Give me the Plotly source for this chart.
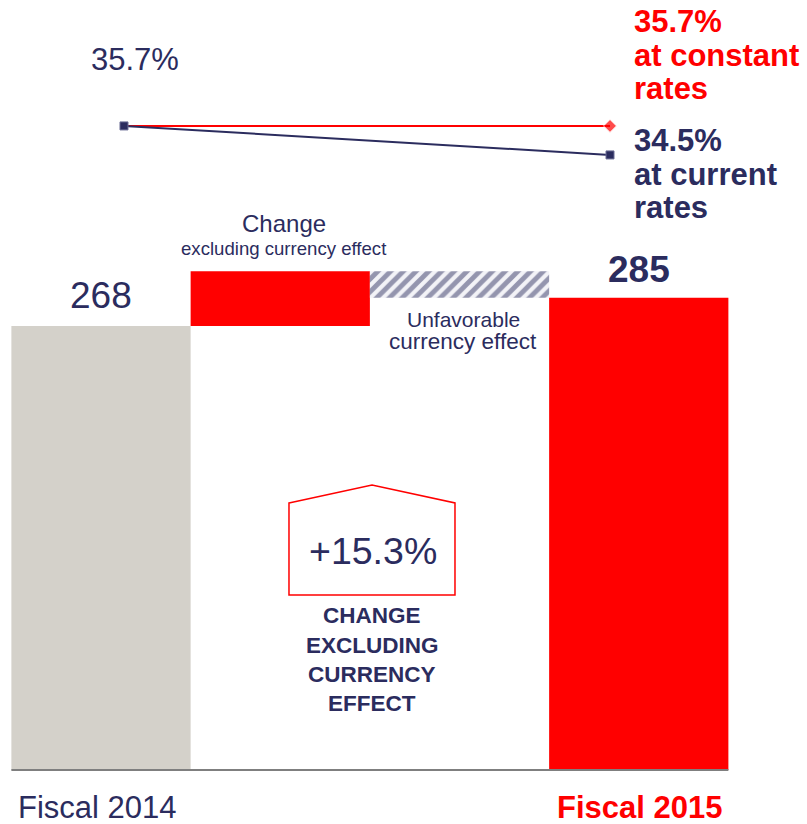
import plotly.graph_objects as go

W, H = 807, 824
NAVY = "#2b2c5e"
RED = "#ff0000"
GREY = "#d4d1ca"
FONT = "Arial, 'Liberation Sans', sans-serif"

# sales bridge, in value units
bridge_cats = ["Fiscal 2014", "Change", "Currency", "Fiscal 2015"]
start_value = 268
change_excl_currency = 33
end_value = 285
currency_effect = end_value - (start_value + change_excl_currency)
growth_excl_currency = 15.3

# operating margin, %
years = ["Fiscal 2014", "Fiscal 2015"]
margin_constant = [35.7, 35.7]
margin_current = [35.7, 34.5]


def px_x(x):
    return x / W


def px_y(y):
    return 1 - y / H


def text_line(text, x, base, size, color=NAVY, bold=False, xanchor="center"):
    # place a single line of text by its baseline, in pixels
    if bold:
        text = "<b>" + text + "</b>"
    return dict(
        text=text,
        x=px_x(x),
        y=px_y(base - 0.36 * size),
        xref="paper",
        yref="paper",
        xanchor=xanchor,
        yanchor="middle",
        showarrow=False,
        font=dict(family=FONT, size=size, color=color),
    )


fig = go.Figure()

fig.add_trace(
    go.Bar(x=[bridge_cats[0]], y=[start_value], width=1, marker=dict(color=GREY, line=dict(width=0)))
)
fig.add_trace(
    go.Bar(
        x=[bridge_cats[1]],
        y=[change_excl_currency],
        base=[start_value],
        width=1,
        marker=dict(color=RED, line=dict(width=0)),
    )
)
fig.add_trace(
    go.Bar(
        x=[bridge_cats[2]],
        y=[-currency_effect],
        base=[end_value],
        width=1,
        marker=dict(
            color="#f3f3f7",
            line=dict(width=0),
            pattern=dict(shape="/", fgcolor="#363865", bgcolor="#f3f3f7", size=9, solidity=0.55),
        ),
    )
)
fig.add_trace(
    go.Bar(x=[bridge_cats[3]], y=[end_value], width=1, marker=dict(color=RED, line=dict(width=0)))
)

# margin lines
fig.add_trace(
    go.Scatter(
        x=years,
        y=margin_constant,
        xaxis="x2",
        yaxis="y2",
        mode="lines+markers",
        line=dict(color=RED, width=2),
        marker=dict(symbol="diamond", size=[0, 10], color=RED),
    )
)
fig.add_trace(
    go.Scatter(
        x=years,
        y=margin_current,
        xaxis="x2",
        yaxis="y2",
        mode="lines+markers",
        line=dict(color=NAVY, width=2),
        marker=dict(symbol="square", size=8, color=NAVY, line=dict(color="#6b6d95", width=1)),
    )
)

annotations = [
    # value labels on the bars
    dict(
        x=bridge_cats[0], y=start_value, text=str(start_value), showarrow=False,
        yanchor="bottom", yshift=8, font=dict(family=FONT, size=37, color=NAVY),
    ),
    dict(
        x=bridge_cats[3], y=end_value, text="<b>%d</b>" % end_value, showarrow=False,
        yanchor="bottom", yshift=6, font=dict(family=FONT, size=37, color=NAVY),
    ),
    text_line("Change", 284, 232, 24),
    text_line("excluding currency effect", 284, 255, 18.6),
    text_line("Unfavorable", 463, 327, 21),
    text_line("currency effect", 463, 350, 22.5),
    text_line("%+.1f%%" % growth_excl_currency, 373, 564, 37.5),
    text_line("CHANGE", 372, 624, 22.5, bold=True),
    text_line("EXCLUDING", 372, 654, 22.5, bold=True),
    text_line("CURRENCY", 372, 683, 22.5, bold=True),
    text_line("EFFECT", 372, 712, 22.5, bold=True),
    text_line(years[0], 97, 819, 31),
    text_line(years[1], 639, 819, 31, color=RED, bold=True),
    # margin labels
    text_line("%.1f%%" % margin_current[0], 135, 71, 31),
    text_line("%.1f%%" % margin_constant[1], 632, 33, 31, color=RED, bold=True, xanchor="left"),
    text_line("at constant", 632, 67, 31, color=RED, bold=True, xanchor="left"),
    text_line("rates", 632, 100, 31, color=RED, bold=True, xanchor="left"),
    text_line("%.1f%%" % margin_current[1], 632, 152, 31, bold=True, xanchor="left"),
    text_line("at current", 632, 186, 31, bold=True, xanchor="left"),
    text_line("rates", 632, 219, 31, bold=True, xanchor="left"),
]

pentagon = [(289, 503), (372, 485), (455, 503), (455, 595), (289, 595)]
path = "M " + " L ".join("%.4f,%.4f" % (px_x(a), px_y(b)) for a, b in pentagon) + " Z"

shapes = [
    dict(type="path", path=path, xref="paper", yref="paper", line=dict(color=RED, width=1.5)),
    dict(
        type="line", xref="x", yref="y", x0=-0.5, x1=3.5, y0=0, y1=0,
        line=dict(color="#7f7f7f", width=2),
    ),
]

fig.update_layout(
    width=W,
    height=H,
    margin=dict(l=0, r=0, t=0, b=0),
    paper_bgcolor="white",
    plot_bgcolor="white",
    showlegend=False,
    barmode="overlay",
    xaxis=dict(
        type="category",
        categoryorder="array",
        categoryarray=bridge_cats,
        range=[-0.5635, 3.9386],
        visible=False,
    ),
    yaxis=dict(range=[-32.6, 464.8], visible=False),
    xaxis2=dict(
        type="category",
        categoryorder="array",
        categoryarray=years,
        overlaying="x",
        anchor="y2",
        range=[-0.2551, 1.4053],
        visible=False,
    ),
    yaxis2=dict(overlaying="y", anchor="x2", range=[6.82, 40.91], visible=False),
    annotations=annotations,
    shapes=shapes,
)

fig.write_html(
    "out.html",
    config={"displayModeBar": False},
    post_script="document.body.style.margin = '0';",
)
